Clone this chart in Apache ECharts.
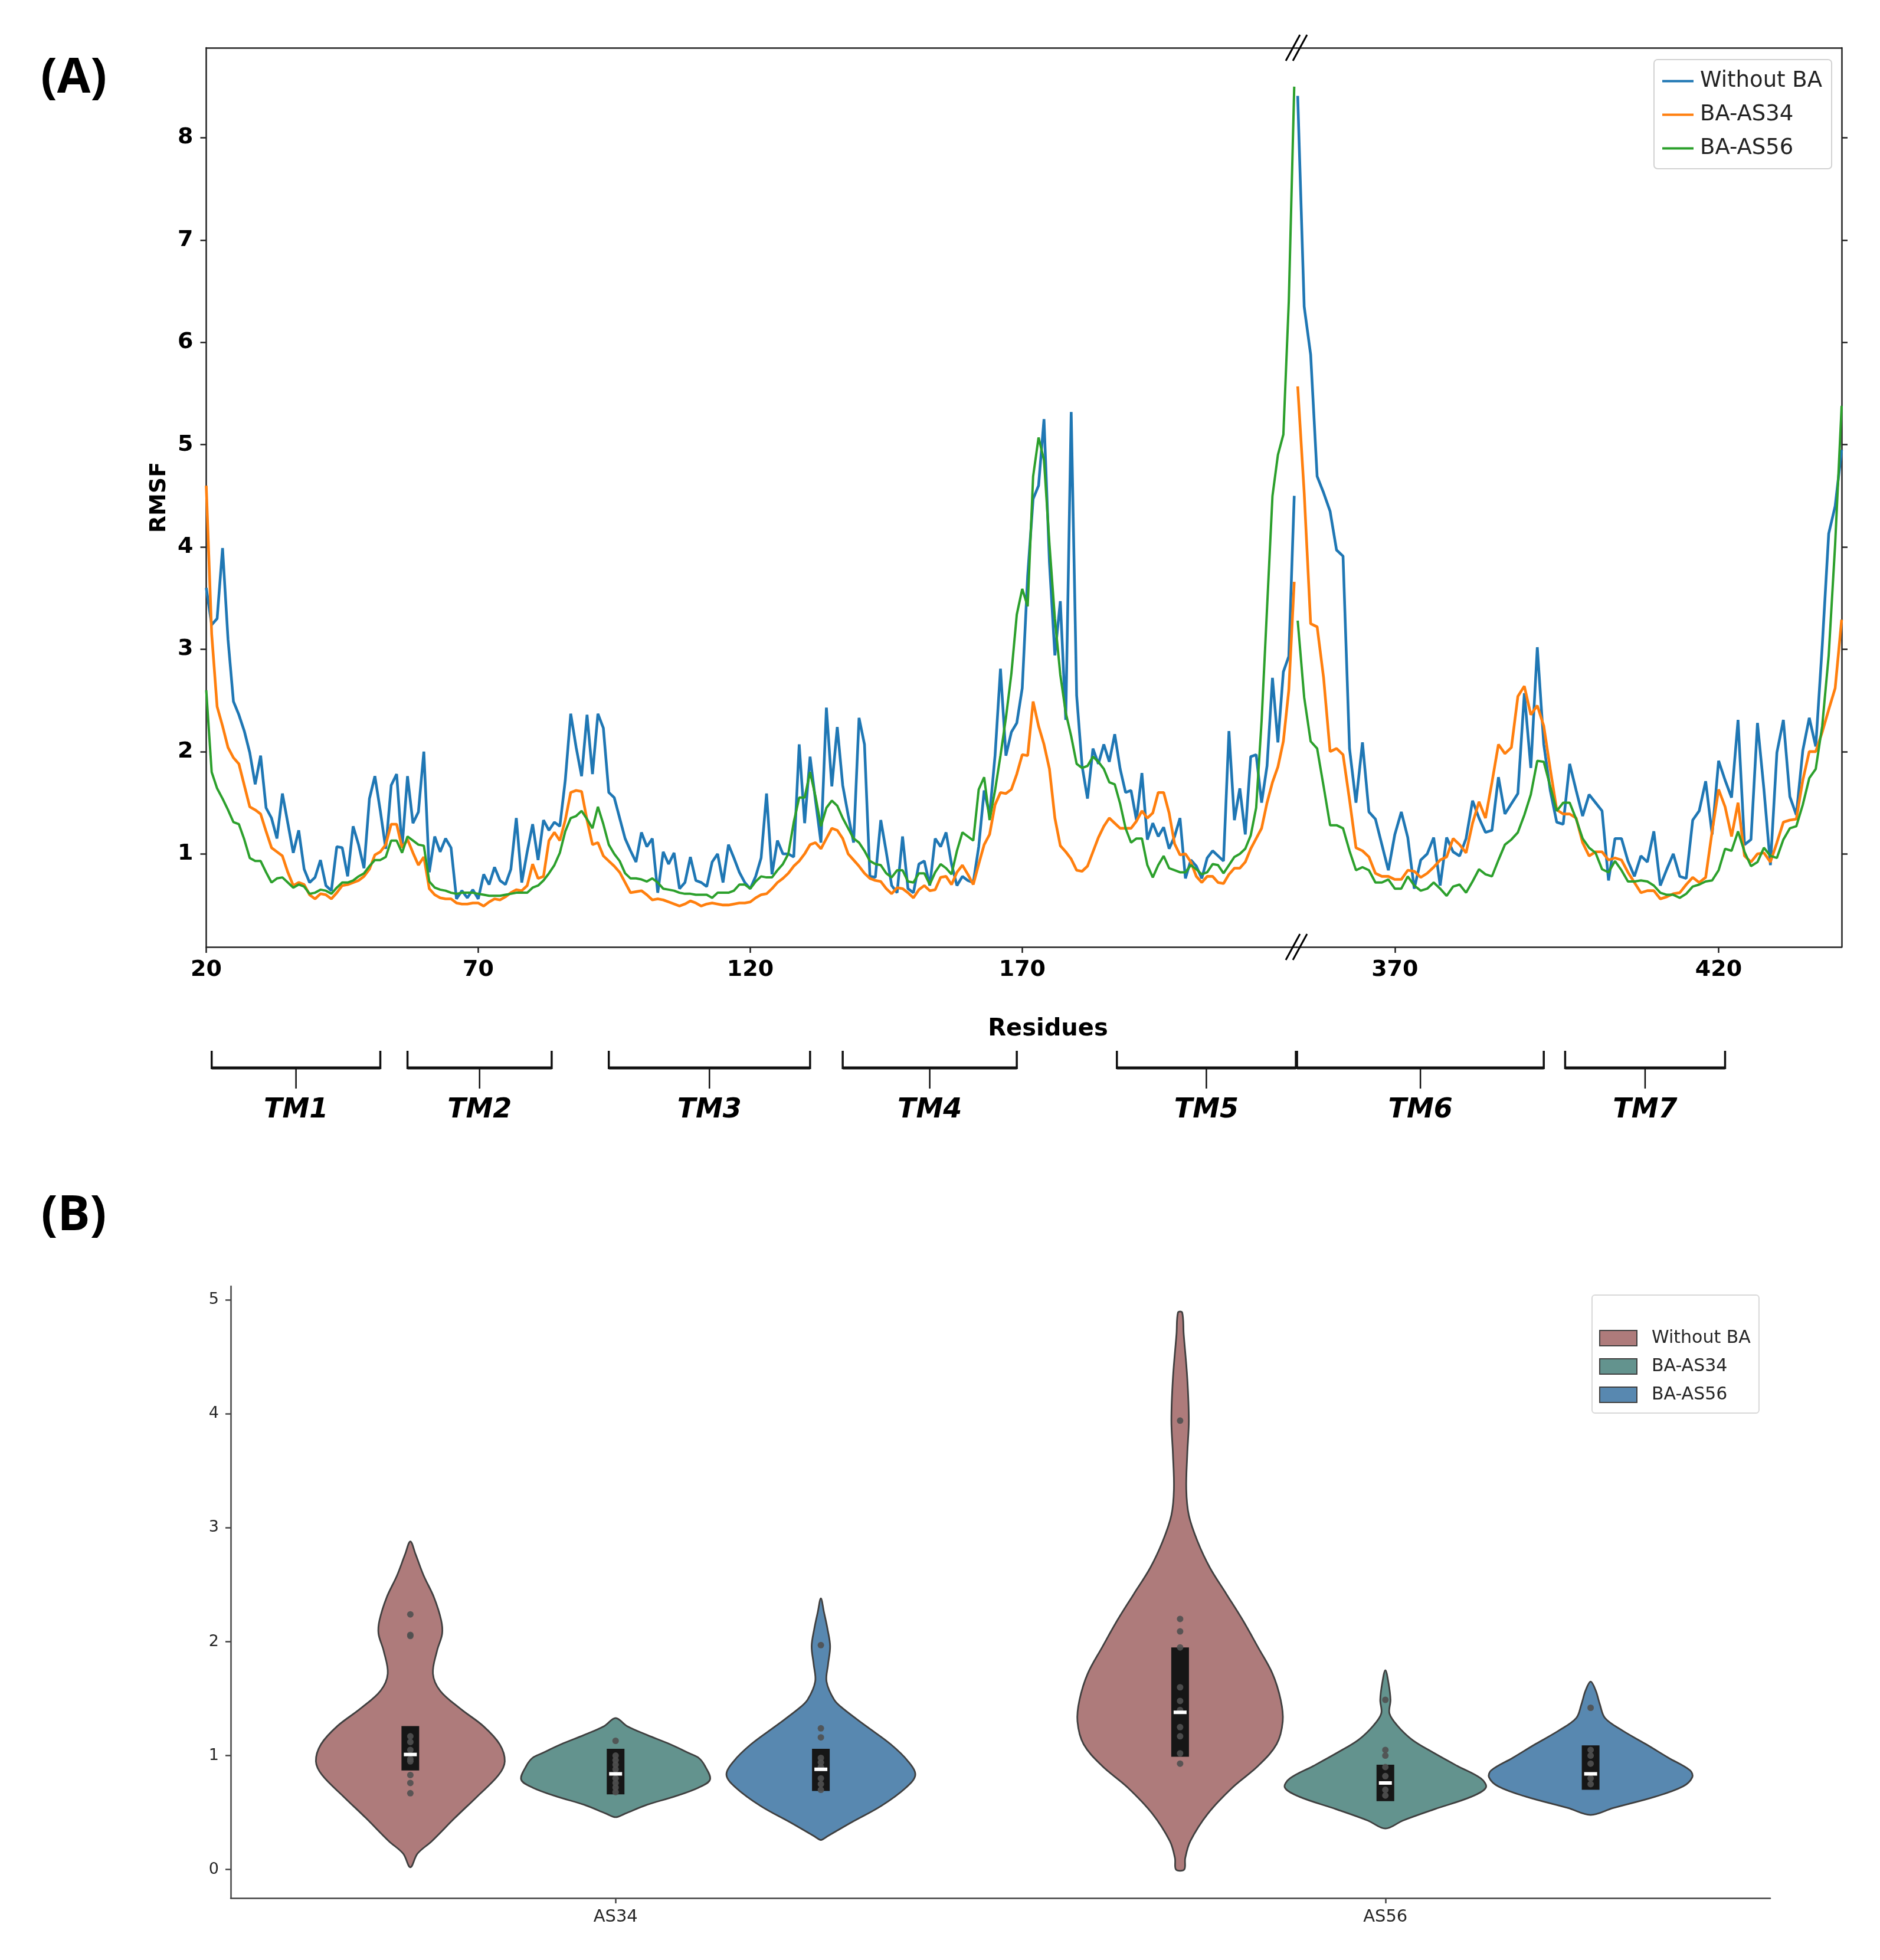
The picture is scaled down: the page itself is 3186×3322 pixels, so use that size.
<!DOCTYPE html>
<html>
<head>
<meta charset="utf-8">
<script src="https://cdn.jsdelivr.net/npm/echarts@6/dist/echarts.min.js"></script>
<style>
  html, body { margin: 0; padding: 0; background: #fff; }
  #chart { width: 3186px; height: 3322px; }
</style>
</head>
<body>
<div id="chart"></div>
<script>
// ---------- panel A data (RMSF per residue) ----------
const leftStart = 20;    // first residue of the segment before the axis break
const rightStart = 355;  // first residue after the break

const blueLeft = [
  3.60, 3.24, 3.30, 3.99, 3.10, 2.49, 2.36, 2.20, 1.99, 1.68,
  1.96, 1.45, 1.35, 1.15, 1.59, 1.30, 1.01, 1.23, 0.85, 0.72,
  0.77, 0.94, 0.69, 0.64, 1.07, 1.06, 0.78, 1.27, 1.09, 0.86,
  1.54, 1.76, 1.42, 1.05, 1.67, 1.78, 1.06, 1.76, 1.30, 1.41,
  2.00, 0.82, 1.17, 1.02, 1.15, 1.06, 0.56, 0.64, 0.57, 0.65,
  0.56, 0.80, 0.70, 0.87, 0.74, 0.70, 0.85, 1.35, 0.72, 1.02,
  1.29, 0.94, 1.33, 1.23, 1.31, 1.27, 1.72, 2.37, 2.04, 1.76,
  2.36, 1.78, 2.37, 2.23, 1.60, 1.55, 1.35, 1.15, 1.03, 0.92,
  1.21, 1.07, 1.15, 0.62, 1.02, 0.90, 1.01, 0.66, 0.72, 0.97,
  0.74, 0.72, 0.68, 0.92, 1.00, 0.72, 1.09, 0.96, 0.82, 0.72,
  0.66, 0.78, 0.96, 1.59, 0.80, 1.13, 1.00, 1.00, 0.97, 2.07,
  1.30, 1.95, 1.52, 1.11, 2.43, 1.66, 2.24, 1.67, 1.38, 1.11,
  2.33, 2.07, 0.78, 0.77, 1.33, 1.02, 0.69, 0.62, 1.17, 0.66,
  0.62, 0.90, 0.93, 0.69, 1.15, 1.07, 1.21, 0.90, 0.69, 0.78,
  0.74, 0.72, 1.07, 1.62, 1.38, 1.96, 2.81, 1.96, 2.19, 2.28,
  2.62, 3.72, 4.47, 4.60, 5.25, 3.85, 2.94, 3.47, 2.31, 5.32,
  2.55, 1.86, 1.54, 2.03, 1.88, 2.07, 1.90, 2.17, 1.83, 1.60,
  1.62, 1.33, 1.79, 1.14, 1.30, 1.17, 1.26, 1.05, 1.17, 1.35,
  0.76, 0.94, 0.88, 0.76, 0.96, 1.03, 0.98, 0.93, 2.20, 1.33,
  1.64, 1.19, 1.95, 1.97, 1.50, 1.86, 2.72, 2.09, 2.78, 2.93,
  4.50
];
const orangeLeft = [
  4.60, 3.15, 2.44, 2.25, 2.04, 1.94, 1.88, 1.67, 1.46, 1.43,
  1.39, 1.22, 1.06, 1.02, 0.98, 0.82, 0.69, 0.72, 0.70, 0.60,
  0.56, 0.61, 0.60, 0.56, 0.62, 0.69, 0.70, 0.72, 0.74, 0.78,
  0.85, 0.99, 1.02, 1.09, 1.29, 1.29, 1.06, 1.14, 1.01, 0.89,
  0.97, 0.66, 0.60, 0.57, 0.56, 0.56, 0.52, 0.51, 0.51, 0.52,
  0.52, 0.49, 0.53, 0.56, 0.55, 0.58, 0.62, 0.65, 0.64, 0.69,
  0.90, 0.76, 0.78, 1.13, 1.21, 1.13, 1.33, 1.60, 1.62, 1.61,
  1.33, 1.09, 1.11, 0.98, 0.93, 0.88, 0.82, 0.72, 0.62, 0.63,
  0.64, 0.60, 0.55, 0.56, 0.55, 0.53, 0.51, 0.49, 0.51, 0.54,
  0.52, 0.49, 0.51, 0.52, 0.51, 0.50, 0.50, 0.51, 0.52, 0.52,
  0.53, 0.57, 0.60, 0.61, 0.66, 0.72, 0.76, 0.81, 0.88, 0.93,
  1.00, 1.09, 1.11, 1.05, 1.15, 1.25, 1.23, 1.15, 1.00, 0.94,
  0.88, 0.81, 0.76, 0.74, 0.73, 0.66, 0.61, 0.67, 0.66, 0.62,
  0.57, 0.65, 0.69, 0.64, 0.65, 0.77, 0.78, 0.70, 0.82, 0.89,
  0.80, 0.70, 0.90, 1.09, 1.19, 1.48, 1.60, 1.59, 1.63, 1.78,
  1.97, 1.96, 2.49, 2.25, 2.07, 1.83, 1.35, 1.08, 1.02, 0.95,
  0.84, 0.83, 0.88, 1.02, 1.16, 1.27, 1.35, 1.30, 1.25, 1.25,
  1.25, 1.32, 1.42, 1.35, 1.40, 1.60, 1.60, 1.40, 1.10, 0.99,
  1.00, 0.92, 0.78, 0.72, 0.78, 0.78, 0.72, 0.71, 0.80, 0.86,
  0.86, 0.92, 1.05, 1.15, 1.25, 1.50, 1.70, 1.85, 2.10, 2.60,
  3.66
];
const greenLeft = [
  2.60, 1.80, 1.64, 1.54, 1.43, 1.31, 1.29, 1.14, 0.96, 0.93,
  0.93, 0.82, 0.72, 0.76, 0.77, 0.72, 0.67, 0.70, 0.68, 0.61,
  0.62, 0.65, 0.64, 0.61, 0.67, 0.72, 0.72, 0.74, 0.78, 0.81,
  0.88, 0.94, 0.94, 0.97, 1.13, 1.13, 1.01, 1.17, 1.13, 1.09,
  1.08, 0.73, 0.67, 0.65, 0.64, 0.62, 0.61, 0.62, 0.62, 0.62,
  0.61, 0.60, 0.59, 0.59, 0.59, 0.60, 0.61, 0.62, 0.62, 0.62,
  0.67, 0.69, 0.74, 0.81, 0.89, 1.01, 1.22, 1.35, 1.37, 1.42,
  1.34, 1.25, 1.46, 1.29, 1.09, 1.00, 0.93, 0.81, 0.76, 0.76,
  0.75, 0.73, 0.76, 0.72, 0.66, 0.65, 0.64, 0.62, 0.61, 0.61,
  0.60, 0.60, 0.60, 0.57, 0.62, 0.62, 0.62, 0.64, 0.70, 0.70,
  0.66, 0.73, 0.78, 0.77, 0.77, 0.84, 0.90, 1.00, 1.31, 1.55,
  1.55, 1.80, 1.56, 1.27, 1.45, 1.52, 1.47, 1.35, 1.25, 1.15,
  1.11, 1.03, 0.93, 0.90, 0.89, 0.81, 0.77, 0.84, 0.84, 0.73,
  0.72, 0.81, 0.81, 0.70, 0.82, 0.90, 0.86, 0.80, 1.03, 1.21,
  1.17, 1.13, 1.63, 1.75, 1.33, 1.62, 1.96, 2.33, 2.76, 3.34,
  3.59, 3.42, 4.69, 5.07, 4.85, 4.03, 3.30, 2.75, 2.38, 2.15,
  1.88, 1.84, 1.86, 1.95, 1.90, 1.83, 1.70, 1.68, 1.49, 1.25,
  1.11, 1.15, 1.15, 0.89, 0.77, 0.89, 0.98, 0.86, 0.84, 0.82,
  0.82, 0.89, 0.85, 0.80, 0.82, 0.90, 0.89, 0.81, 0.89, 0.97,
  1.00, 1.05, 1.18, 1.45, 2.30, 3.40, 4.50, 4.90, 5.10, 6.40,
  8.50
];
const blueRight = [
  8.41, 6.35, 5.88, 4.69, 4.53, 4.35, 3.97, 3.91, 2.03, 1.50,
  2.09, 1.41, 1.34, 1.09, 0.84, 1.19, 1.41, 1.16, 0.66, 0.94,
  1.00, 1.16, 0.69, 1.16, 1.02, 0.98, 1.15, 1.52, 1.35, 1.21,
  1.23, 1.75, 1.39, 1.49, 1.59, 2.57, 1.84, 3.02, 2.07, 1.62,
  1.31, 1.29, 1.88, 1.62, 1.37, 1.58, 1.50, 1.42, 0.74, 1.15,
  1.15, 0.93, 0.78, 0.98, 0.92, 1.22, 0.69, 0.85, 1.00, 0.78,
  0.76, 1.33, 1.42, 1.71, 1.19, 1.91, 1.72, 1.55, 2.31, 1.09,
  1.14, 2.28, 1.63, 0.89, 1.99, 2.31, 1.56, 1.38, 2.01, 2.33,
  2.05, 3.03, 4.13, 4.40, 4.95
];
const orangeRight = [
  5.57, 4.53, 3.25, 3.22, 2.72, 2.00, 2.03, 1.97, 1.53, 1.06,
  1.03, 0.97, 0.81, 0.78, 0.78, 0.75, 0.75, 0.84, 0.83, 0.77,
  0.81, 0.87, 0.94, 0.97, 1.15, 1.09, 1.01, 1.30, 1.51, 1.35,
  1.70, 2.07, 1.98, 2.04, 2.54, 2.64, 2.36, 2.45, 2.25, 1.83,
  1.43, 1.39, 1.39, 1.35, 1.11, 0.98, 1.02, 1.02, 0.94, 0.96,
  0.94, 0.82, 0.72, 0.62, 0.64, 0.64, 0.56, 0.58, 0.61, 0.62,
  0.70, 0.77, 0.72, 0.77, 1.22, 1.63, 1.46, 1.17, 1.50, 0.98,
  0.92, 1.00, 1.01, 0.92, 1.11, 1.31, 1.33, 1.34, 1.72, 2.00,
  2.00, 2.19, 2.41, 2.62, 3.29
];
const greenRight = [
  3.28, 2.53, 2.10, 2.03, 1.66, 1.28, 1.28, 1.25, 1.03, 0.84,
  0.87, 0.84, 0.72, 0.72, 0.75, 0.66, 0.66, 0.78, 0.69, 0.64,
  0.66, 0.72, 0.66, 0.59, 0.68, 0.70, 0.62, 0.73, 0.85, 0.80,
  0.78, 0.94, 1.09, 1.14, 1.21, 1.38, 1.58, 1.91, 1.90, 1.66,
  1.42, 1.50, 1.50, 1.34, 1.15, 1.06, 1.01, 0.85, 0.82, 0.93,
  0.84, 0.73, 0.73, 0.74, 0.73, 0.69, 0.62, 0.60, 0.60, 0.57,
  0.61, 0.68, 0.70, 0.73, 0.74, 0.84, 1.05, 1.03, 1.22, 1.02,
  0.88, 0.92, 1.06, 0.98, 0.96, 1.14, 1.25, 1.27, 1.48, 1.74,
  1.83, 2.25, 2.94, 4.03, 5.38
];

const yTicksA = [1, 2, 3, 4, 5, 6, 7, 8];
const xTicksLeft = [20, 70, 120, 170];
const xTicksRight = [370, 420];

// transmembrane helices (residue spans)
const tmNames = ['TM1', 'TM2', 'TM3', 'TM4', 'TM5', 'TM6', 'TM7'];
const tmStart = [21, 57, 94, 137, 187.4, 354.9, 396.3];
const tmEnd = [52, 83.5, 131, 169, 220.3, 393, 421];

// ---------- panel B data (violins) ----------
const sites = ['AS34', 'AS56'];
const groups = ['Without BA', 'BA-AS34', 'BA-AS56'];
// outline: [RMSF, relative half width]
const shapeWithout = [
  [[2.88, 0], [2.77, 0.05], [2.58, 0.13], [2.39, 0.23], [2.19, 0.30], [2.07, 0.31], [1.92, 0.26],
   [1.72, 0.22], [1.57, 0.29], [1.41, 0.49], [1.26, 0.71], [1.10, 0.87], [0.95, 0.92], [0.83, 0.86],
   [0.64, 0.65], [0.45, 0.43], [0.25, 0.21], [0.14, 0.07], [0.02, 0]],
  [[4.89, 0.02], [4.70, 0.035], [4.31, 0.07], [3.94, 0.085], [3.65, 0.07], [3.34, 0.06], [3.11, 0.085],
   [2.88, 0.17], [2.65, 0.29], [2.42, 0.45], [2.19, 0.61], [1.95, 0.76], [1.72, 0.90], [1.49, 0.98],
   [1.30, 1.0], [1.10, 0.94], [0.91, 0.76], [0.72, 0.51], [0.49, 0.27], [0.25, 0.10], [0.10, 0.05], [0.0, 0.04]]
];
const shapeAS34 = [
  [[1.33, 0], [1.26, 0.11], [1.18, 0.31], [1.10, 0.53], [1.02, 0.72], [0.98, 0.81], [0.91, 0.87],
   [0.79, 0.92], [0.72, 0.81], [0.64, 0.57], [0.57, 0.31], [0.49, 0.09], [0.46, 0]],
  [[1.75, 0], [1.64, 0.03], [1.49, 0.05], [1.37, 0.04], [1.26, 0.12], [1.14, 0.26], [1.03, 0.46],
   [0.91, 0.70], [0.80, 0.93], [0.72, 0.98], [0.64, 0.84], [0.53, 0.48], [0.43, 0.17], [0.36, 0]]
];
const shapeAS56 = [
  [[2.38, 0], [2.26, 0.03], [2.11, 0.065], [1.96, 0.09], [1.80, 0.07], [1.65, 0.055], [1.49, 0.13],
   [1.41, 0.22], [1.26, 0.44], [1.10, 0.68], [0.95, 0.85], [0.83, 0.92], [0.72, 0.83], [0.56, 0.59],
   [0.41, 0.29], [0.29, 0.06], [0.26, 0]],
  [[1.65, 0], [1.57, 0.05], [1.45, 0.09], [1.33, 0.14], [1.22, 0.31], [1.10, 0.54], [0.98, 0.76],
   [0.87, 0.97], [0.81, 0.99], [0.73, 0.90], [0.64, 0.63], [0.54, 0.22], [0.48, 0]]
];
// [q1, median, q3]
const boxWithout = [[0.87, 1.01, 1.26], [0.99, 1.38, 1.95]];
const boxAS34 = [[0.66, 0.84, 1.06], [0.60, 0.76, 0.92]];
const boxAS56 = [[0.69, 0.88, 1.06], [0.70, 0.84, 1.09]];
// individual residues
const ptsWithout = [
  [2.24, 2.06, 2.05, 1.17, 1.12, 1.05, 0.97, 0.95, 0.83, 0.76, 0.67],
  [3.94, 2.20, 2.09, 1.95, 1.60, 1.48, 1.40, 1.25, 1.17, 1.02, 0.93]
];
const ptsAS34 = [
  [1.13, 1.00, 0.96, 0.92, 0.88, 0.80, 0.76, 0.72, 0.68],
  [1.49, 1.05, 1.00, 0.90, 0.82, 0.70, 0.65]
];
const ptsAS56 = [
  [1.97, 1.24, 1.16, 0.98, 0.94, 0.90, 0.80, 0.75, 0.70],
  [1.42, 1.05, 1.00, 0.93, 0.80, 0.75]
];
const yTicksB = [0, 1, 2, 3, 4, 5];

const colors = {
  blue: '#1f77b4', orange: '#ff7f0e', green: '#2ca02c',
  without: '#ae7b7b', as34: '#63938e', as56: '#5888b0',
  spine: '#222', edge: '#3f3f3f'
};
const font = 'DejaVu Sans';

const violinShapes = [shapeWithout, shapeAS34, shapeAS56];
const violinBoxes = [boxWithout, boxAS34, boxAS56];
const violinPts = [ptsWithout, ptsAS34, ptsAS56];
const violinColors = [colors.without, colors.as34, colors.as56];
const hueOffset = [-0.8 / 3, 0, 0.8 / 3];
const maxHalf = 0.8 / 6;

function pairs(start, vals) {
  return vals.map((v, i) => [start + i, v]);
}

// ---------- layout ----------
const A = { left: 349.5, brk: 2197, right: 3121, top: 81, bottom: 1605 };
const B = { left: 391, right: 3000, top: 2180, bottom: 3217 };
const spine = { lineStyle: { color: colors.spine, width: 2.5 } };

function lineSeries(name, xi, start, vals, color, width) {
  return {
    name: name, type: 'line', xAxisIndex: xi, yAxisIndex: xi,
    data: pairs(start, vals), symbol: 'none', animation: false,
    lineStyle: { color: color, width: width }, itemStyle: { color: color }
  };
}

function violinRender(hue) {
  return function (params, api) {
    const cat = api.value(0);
    const shape = violinShapes[hue][cat];
    const box = violinBoxes[hue][cat];
    const band = api.size([1, 0])[0];
    const cx = api.coord([cat, 0])[0] + hueOffset[hue] * band;
    const half = maxHalf * band;
    const y = v => api.coord([cat, v])[1];
    const outline = shape.map(p => [cx + p[1] * half, y(p[0])]);
    shape.slice().reverse().forEach(p => {
      if (p[1] > 0) outline.push([cx - p[1] * half, y(p[0])]);
    });
    const children = [{
      type: 'polygon', shape: { points: outline, smooth: 0.35 },
      style: { fill: violinColors[hue], stroke: colors.edge, lineWidth: 2.8 }
    }, {
      type: 'rect',
      shape: { x: cx - 15, y: y(box[2]), width: 30, height: y(box[0]) - y(box[2]) },
      style: { fill: '#161616' }
    }];
    violinPts[hue][cat].forEach(v => {
      children.push({ type: 'circle', shape: { cx: cx, cy: y(v), r: 5.5 }, style: { fill: '#505050', opacity: 0.9 } });
    });
    children.push({
      type: 'rect', shape: { x: cx - 11, y: y(box[1]) - 3, width: 22, height: 6 },
      style: { fill: '#ffffff' }
    });
    return { type: 'group', children: children };
  };
}

const chart = echarts.init(document.getElementById('chart'));

const option = {
  backgroundColor: '#fff',
  animation: false,
  textStyle: { fontFamily: font },
  grid: [
    { left: A.left, top: A.top, width: A.brk - A.left, height: A.bottom - A.top },
    { left: A.brk, top: A.top, width: A.right - A.brk, height: A.bottom - A.top },
    { left: B.left, top: B.top, width: B.right - B.left, height: B.bottom - B.top }
  ],
  xAxis: [
    {
      type: 'value', gridIndex: 0, min: 20, max: 220.4, position: 'bottom',
      axisLine: { show: true, onZero: false, ...spine },
      axisTick: { show: true, length: 10, customValues: xTicksLeft, ...spine },
      axisLabel: { customValues: xTicksLeft, fontSize: 38, fontWeight: 'bold', color: '#000', margin: 20, fontFamily: font },
      splitLine: { show: false }
    },
    {
      type: 'value', gridIndex: 1, min: 354.8, max: 439, position: 'bottom',
      axisLine: { show: true, onZero: false, ...spine },
      axisTick: { show: true, length: 10, customValues: xTicksRight, ...spine },
      axisLabel: { customValues: xTicksRight, fontSize: 38, fontWeight: 'bold', color: '#000', margin: 20, fontFamily: font },
      splitLine: { show: false }
    },
    {
      type: 'value', gridIndex: 0, min: 20, max: 220.4, position: 'top',
      axisLine: { show: true, onZero: false, ...spine },
      axisTick: { show: false }, axisLabel: { show: false }, splitLine: { show: false }
    },
    {
      type: 'value', gridIndex: 1, min: 354.8, max: 439, position: 'top',
      axisLine: { show: true, onZero: false, ...spine },
      axisTick: { show: false }, axisLabel: { show: false }, splitLine: { show: false }
    },
    {
      type: 'category', gridIndex: 2, data: sites,
      axisLine: { show: true, onZero: false, lineStyle: { color: '#444', width: 2.5 } },
      axisTick: { show: true, alignWithLabel: true, length: 9, lineStyle: { color: '#444', width: 2.5 } },
      axisLabel: { fontSize: 29, color: '#262626', margin: 18, fontFamily: font },
      splitLine: { show: false }
    }
  ],
  yAxis: [
    {
      type: 'value', gridIndex: 0, min: 0.09, max: 8.88, position: 'left',
      axisLine: { show: true, onZero: false, ...spine },
      axisTick: { show: true, length: 10, customValues: yTicksA, ...spine },
      axisLabel: { customValues: yTicksA, fontSize: 38, fontWeight: 'bold', color: '#000', margin: 22, fontFamily: font },
      splitLine: { show: false }
    },
    {
      type: 'value', gridIndex: 1, min: 0.09, max: 8.88, position: 'right',
      axisLine: { show: true, onZero: false, ...spine },
      axisTick: { show: true, length: 10, customValues: yTicksA, ...spine },
      axisLabel: { show: false }, splitLine: { show: false }
    },
    {
      type: 'value', gridIndex: 2, min: -0.25, max: 5.12,
      axisLine: { show: true, onZero: false, lineStyle: { color: '#444', width: 2.5 } },
      axisTick: { show: true, length: 9, customValues: yTicksB, lineStyle: { color: '#444', width: 2.5 } },
      axisLabel: { customValues: yTicksB, fontSize: 27, color: '#262626', margin: 20, fontFamily: font },
      splitLine: { show: false }
    }
  ],
  legend: [
    {
      data: groups, orient: 'vertical', left: 2803, top: 101,
      padding: [18, 16, 16, 14], itemWidth: 53, itemHeight: 4, itemGap: 20, icon: 'rect',
      backgroundColor: '#fff', borderColor: '#d2d2d2', borderWidth: 2, borderRadius: 6,
      textStyle: { fontSize: 37, color: '#222', fontFamily: font, padding: [0, 0, 0, 6] }
    },
    {
      data: groups.map(g => 'violin:' + g), orient: 'vertical', left: 2698, top: 2195,
      padding: [58, 14, 16, 12], itemWidth: 63, itemHeight: 26, itemGap: 18, icon: 'rect',
      itemStyle: { borderColor: colors.edge, borderWidth: 2 },
      formatter: n => n.replace('violin:', ''),
      backgroundColor: '#fff', borderColor: '#d8d8d8', borderWidth: 2, borderRadius: 5,
      textStyle: { fontSize: 30, color: '#262626', fontFamily: font, padding: [0, 0, 0, 20] }
    }
  ],
  series: [
    lineSeries('Without BA', 0, leftStart, blueLeft, colors.blue, 4.6),
    lineSeries('BA-AS34', 0, leftStart, orangeLeft, colors.orange, 4.6),
    lineSeries('BA-AS56', 0, leftStart, greenLeft, colors.green, 4),
    lineSeries('Without BA', 1, rightStart, blueRight, colors.blue, 4.6),
    lineSeries('BA-AS34', 1, rightStart, orangeRight, colors.orange, 4.6),
    lineSeries('BA-AS56', 1, rightStart, greenRight, colors.green, 4)
  ].concat(groups.map((g, h) => ({
    name: 'violin:' + g, type: 'custom', xAxisIndex: 4, yAxisIndex: 2,
    renderItem: violinRender(h), itemStyle: { color: violinColors[h] },
    encode: { x: 0, y: 1 },
    data: sites.map((s, c) => [c, violinBoxes[h][c][1]])
  })))
};

chart.setOption(option);

// ---------- annotations: panel labels, axis titles, break marks, TM brackets ----------
const graphics = [
  { type: 'text', x: 125, y: 134, style: { text: '(A)', fontSize: 82, fontWeight: 'bold', fontFamily: 'Open Sans', fill: '#000', align: 'center', verticalAlign: 'middle' } },
  { type: 'text', x: 125, y: 2062, style: { text: '(B)', fontSize: 82, fontWeight: 'bold', fontFamily: 'Open Sans', fill: '#000', align: 'center', verticalAlign: 'middle' } },
  { type: 'text', x: 270, y: 843, rotation: Math.PI / 2, style: { text: 'RMSF', fontSize: 38, fontWeight: 'bold', fontFamily: font, fill: '#000', align: 'center', verticalAlign: 'middle' } },
  { type: 'text', x: 1776, y: 1745, style: { text: 'Residues', fontSize: 40, fontWeight: 'bold', fontFamily: font, fill: '#000', align: 'center', verticalAlign: 'middle' } }
];

[A.top, A.bottom].forEach(yy => {
  [-6, 6].forEach(dx => {
    graphics.push({
      type: 'line', z: 100,
      shape: { x1: A.brk + dx - 12, y1: yy + 22, x2: A.brk + dx + 12, y2: yy - 22 },
      style: { stroke: '#000', lineWidth: 3 }
    });
  });
});

function resPx(r) {
  return r < 300 ? chart.convertToPixel({ xAxisIndex: 0 }, r) : chart.convertToPixel({ xAxisIndex: 1 }, r);
}

const brY = 1810, brTop = 1781, tickBottom = 1845, tmLabelY = 1882;
tmNames.forEach((name, i) => {
  const x1 = resPx(tmStart[i]);
  const x2 = resPx(tmEnd[i]);
  const mid = (x1 + x2) / 2;
  const st = { stroke: '#111', lineWidth: 3.5 };
  graphics.push(
    { type: 'line', shape: { x1: x1, y1: brY, x2: x2, y2: brY }, style: { stroke: '#111', lineWidth: 5 } },
    { type: 'line', shape: { x1: x1, y1: brTop, x2: x1, y2: brY + 2 }, style: st },
    { type: 'line', shape: { x1: x2, y1: brTop, x2: x2, y2: brY + 2 }, style: st },
    { type: 'line', shape: { x1: mid, y1: brY, x2: mid, y2: tickBottom }, style: { stroke: '#111', lineWidth: 2.5 } },
    { type: 'text', x: mid, y: tmLabelY, style: { text: name, fontSize: 46, fontWeight: 'bold', fontStyle: 'italic', fontFamily: font, fill: '#000', align: 'center', verticalAlign: 'middle' } }
  );
});

chart.setOption({ graphic: graphics });

window.addEventListener('resize', function () { chart.resize(); });
</script>
</body>
</html>
